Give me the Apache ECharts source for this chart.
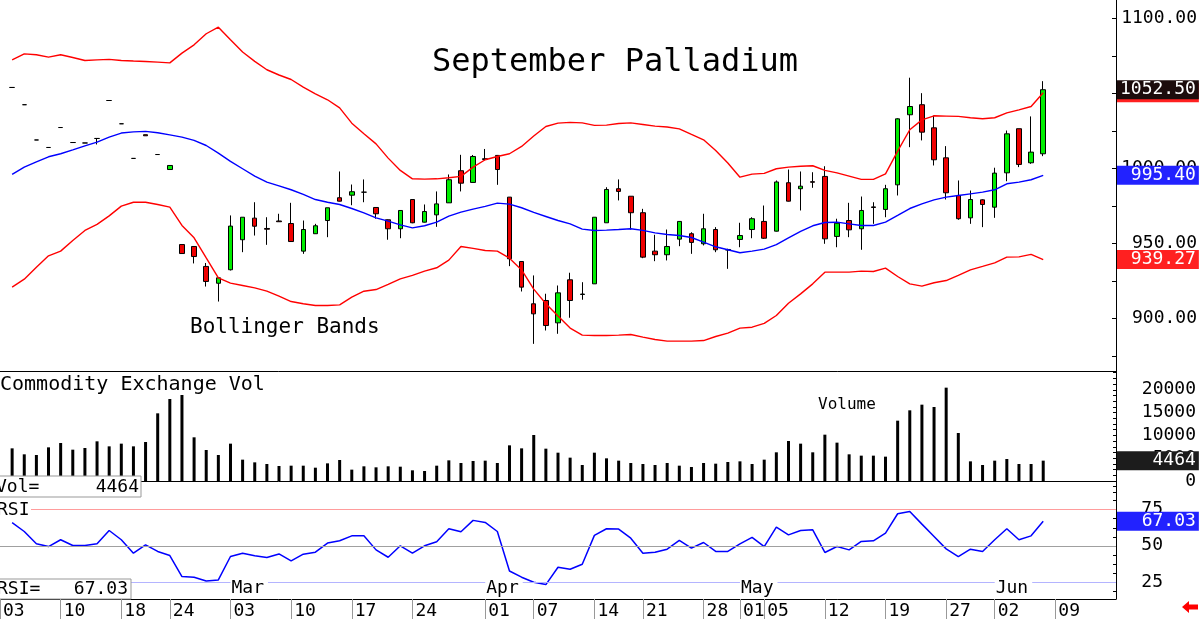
<!DOCTYPE html>
<html>
<head>
<meta charset="utf-8">
<script src="https://cdn.jsdelivr.net/npm/echarts@6/dist/echarts.min.js"></script>
<style>
html, body { margin: 0; padding: 0; background: #fff; }
#main { width: 1200px; height: 620px; }
</style>
</head>
<body>
<div id="main"></div>
<script>
// trading days, Feb 03 .. Jun 16 (first and trailing slots carry no bar)
var dates = ['02-03','02-04','02-05','02-06','02-07','02-10','02-11','02-12','02-13','02-14','02-18','02-19','02-20','02-21','02-24','02-25','02-26','02-27','02-28',
    '03-03','03-04','03-05','03-06','03-07','03-10','03-11','03-12','03-13','03-14','03-17','03-18','03-19','03-20','03-21','03-24','03-25','03-26','03-27','03-28','03-31',
    '04-01','04-02','04-03','04-04','04-07','04-08','04-09','04-10','04-11','04-14','04-15','04-16','04-17','04-21','04-22','04-23','04-24','04-25','04-28','04-29','04-30',
    '05-01','05-02','05-05','05-06','05-07','05-08','05-09','05-12','05-13','05-14','05-15','05-16','05-19','05-20','05-21','05-22','05-23','05-27','05-28','05-29','05-30',
    '06-02','06-03','06-04','06-05','06-06','06-09','06-10','06-11','06-12','06-13','06-16'];

// day labels on the date axis and month names
var dayTicks = ['02-03','02-10','02-18','02-24','03-03','03-10','03-17','03-24','04-01','04-07','04-14','04-21','04-28','05-01','05-05','05-12','05-19','05-27','06-02','06-09'];
var monthNames = { '03-03': 'Mar', '04-01': 'Apr', '05-01': 'May', '06-02': 'Jun' };

// OHLC from Feb 04 to Jun 06
var opens = [1054,1042.5,1019,1014,1027.3,1017.3,1017,1020,1045.3,1029.8,1006.7,1022.5,1009.3,999.3,949.3,948,934.7,923.5,932.5,952.5,
    966.9,960,965,963.3,944.9,956.5,965.3,980.5,982.2,984.2,974,965.8,959.8,979.3,964.2,969.1,977.1,998.5,990.7,1006.5,
    1008.7,980.9,938,909.8,912,897.1,925.8,916,923.1,963.8,986.5,981.5,970.5,944.9,942.5,952.9,956.5,949.8,959.3,945.6,
    952.7,959.3,964.7,958.2,990.5,986.5,991.2,994.7,954.7,965.3,959.8,974.4,972.7,989.1,1035.8,1042.5,1027.1,1007.1,982,967.1,
    979.1,974.2,997.1,1026.5,1003.8,1009.8];
var closes = [1054,1042.5,1019,1014,1027.3,1017.3,1017,1020,1045.3,1029.8,1006.7,1021.8,1009.3,1002,943.3,941.3,924.7,927.1,961.6,967.5,
    961.5,959.5,964.5,951.3,959.3,961.8,973.8,978.2,984.5,984.2,969.8,959.8,972,963.8,971.3,976.4,992.5,990.2,1008,1006,
    999.3,939.8,920.9,903.1,895.3,917.1,912,916.3,967.5,986,984.7,970.5,940.9,942.5,948,964.7,950.7,959.8,945.8,946,
    955.3,966.5,953.5,991,978.2,988.2,990.8,953.1,963.5,959.1,972,974,986.5,1033.1,1041.3,1024.2,1005.8,983.8,966.5,979.3,
    976,996.9,1023.1,1002.7,1010.9,1052.5];
var lows = [1054,1042.5,1019,1014,1027.3,1017.3,1017,1016,1045.3,1029.8,1006.7,1021.8,1009.3,999.3,943.3,936.7,921.3,911.3,932,944.2,
    955.3,949.1,964.5,951,943.1,956.5,954.2,978,975.5,977.5,966.5,952.5,953.5,963.5,964,961.1,977,984.7,990.5,1005.5,
    989.1,934.9,918,883.1,892,889.8,900.5,912.5,923,963.8,978.7,959.3,940.2,938.2,938.7,948.2,943.1,948.7,944.2,933.1,
    947.5,953.5,953,958,978,972,987.1,949.8,947.5,954.2,945.8,963.1,967.5,982,1014.2,1018.7,1002,979.3,965.8,963.1,
    960.9,967.1,991.5,1000.9,1003.1,1008.2];
var highs = [1054,1042.5,1019,1014,1027.3,1017.3,1017,1020,1045.3,1029.8,1006.7,1022.5,1009.3,1002,949.3,948,937,927.1,968.7,967.5,
    977.5,967.5,969.8,977.1,965.3,963.1,973.8,998,989.3,992.7,974,966,972,979.3,976,984.7,996,1009.1,1009,1013,
    1009,981,938,928.7,916.5,922,930.5,924.2,967.5,987.5,992.7,981.5,973.1,955.8,959.3,964.7,957.5,969.8,960.9,946.5,
    963.8,967.5,975.3,992,999.3,998,997.5,1001.5,966.5,977.1,981.3,977.5,989.1,1033.5,1060.5,1050.2,1035.3,1014.9,992,985.3,
    979.5,1000.5,1025.3,1026.5,1034.7,1058.2];

// Bollinger bands
var upperBand = [1072.4,1076.4,1075.8,1074.2,1075.8,1074,1072,1072.4,1072.7,1072,1071.6,1071.3,1070.9,1070.4,1076.9,1082.4,1089.8,1094.2,1085.8,1077.6,
    1071.4,1065.8,1062.3,1059.3,1054.2,1049.8,1045.8,1040.4,1030.2,1023.1,1016.4,1006.9,998.7,993.1,992.9,993.1,993.8,994.7,1000.9,1005.8,
    1008,1009.8,1014.7,1021.6,1028,1030.2,1030.7,1030.4,1028.7,1028.9,1030,1030.4,1029.3,1028.2,1027.6,1026.4,1022.7,1019.1,1012,1003.6,
    994.2,996.2,996.7,999.8,1000.9,1001.5,1001.8,998.7,997.1,994.9,992.7,992.7,996.4,1011.6,1025.8,1032.4,1035.1,1034.9,1034.7,1033.8,
    1033.1,1033.8,1037.1,1039.1,1041.3,1050.5];
var midBand = [996,1000.9,1004.4,1007.8,1009.8,1012.4,1015.1,1017.6,1020.9,1023.6,1024.4,1024.7,1023.8,1022.4,1020.9,1018.7,1015.3,1010.2,1004.7,999.8,
    994.9,990.9,988.4,985.8,982.7,979.3,977.5,976,973.3,970.4,967.1,964.9,962.4,960.4,961.8,964.2,968.2,970.9,972.9,974.7,
    976.9,976.2,973.8,970.7,968,965.3,963.1,959.6,958.7,958.9,959.3,959.8,958.7,957.1,956,955.3,954,950.9,947.8,945.8,
    943.8,944.9,946.2,949.3,953.8,958,961.8,964,964.2,963.1,962,962,964.2,968.7,973.3,976.4,979.1,980.9,982,983.1,
    984.2,985.8,989.8,990.9,992.5,995.4];
var lowerBand = [920.9,926.2,934.2,941.8,944.9,952,958.7,962.7,968.4,974.9,977.5,977.5,976,974.2,962,953.8,940.4,927.1,923.6,922,
    920.4,918.2,914.9,911.3,909.8,908.7,908.7,909.1,914.2,918.2,919.3,922.7,926.4,928.7,931.6,933.8,938.9,948,946.7,945.3,
    944.9,940.2,932.4,919.6,909.8,901.6,893.6,888.9,888.7,888.7,888.9,889.3,887.6,886,884.9,884.9,884.9,885.3,888,890.2,
    893.6,894.2,896.7,902,910.2,916.4,923.1,930.9,930.9,930.9,931.6,931.3,933.6,928,923.1,921.6,923.8,925.3,928.7,932.4,
    934.7,937.1,940.9,941.1,942.7,939.27];

// Commodity Exchange volume
var volumes = [7160,5850,5700,7380,8330,6870,7240,8700,7600,8190,7600,8550,14840,17980,18860,9580,6800,5700,8190,4680,
    4090,3730,3290,3360,3360,2920,3870,4610,2490,3220,3000,3220,3140,2340,2190,3360,4530,3950,4390,4460,
    3950,7820,7160,10090,7090,6210,5120,3510,6210,4970,4460,3950,3730,3510,3950,3360,3070,3950,3800,4170,
    4310,3730,4680,6290,8770,8190,6290,10160,8410,5850,5560,5560,5340,13230,15500,16740,16230,20470,10530,4310,
    3510,4460,4830,3730,3730,4464];

// RSI
var rsi = [66,59.9,51.4,49.5,54.2,50.2,50.2,51.4,60.6,54.2,44.9,50.7,46.1,43.3,28.7,28.3,25.7,26.4,42.6,44.9,
    43.1,41.9,44.4,39.6,44.2,45.6,51.9,53.5,56.9,56.9,47.2,42.1,50,44.9,50,52.8,61.8,59.7,67.6,66.2,
    59.9,32.6,28.3,24.8,23.2,35.2,33.8,37.3,57.2,61.8,61.6,55.3,44.9,45.6,47.7,53.7,48.4,52.3,46.1,46.1,
    51.4,55.8,49.5,63,57.6,60.6,61.1,45.4,49.5,47.2,53,53.5,58.8,72.2,73.8,65,56.5,47.9,42.6,47.7,
    46.1,54.2,61.8,54.2,56.9,67.03];

// axis tick / label values
var priceTicks = [875,900,925,950,975,1000,1025,1050,1075,1100];
var priceLabels = [900,950,1000,1050,1100];
var volTicks = [-2500,-1250,0,1250,2500,3750,5000,6250,7500,8750,10000,11250,12500,13750,15000,16250,17500,18750,20000,21250,22500,23750];
var volLabels = [0,5000,10000,15000,20000];
var rsiTicks = [18.75,25,31.25,37.5,43.75,50,56.25,62.5,68.75,75,81.25];
var rsiLabels = [25,50,75];

var MONO = "'DejaVu Sans Mono', monospace";
var last = closes.length - 1;
var CLEAR = 'rgba(0,0,0,0)';

function pad(v, d) {
    return v.toFixed(d).padStart(7, ' ');
}

function boxLabel(text, bg) {
    return {
        show: true,
        position: 'end',
        distance: 1,
        formatter: function() { return text; },
        color: '#fff',
        opacity: 1,
        backgroundColor: bg,
        fontFamily: MONO,
        fontSize: 18,
        lineHeight: 18,
        padding: [1, 3, 0, 3]
    };
}

// right side value box on a series (markLine whose line is transparent)
function valueBox(value, digits, bg) {
    return {
        silent: true,
        symbol: ['none', 'none'],
        lineStyle: { color: CLEAR, width: 1, type: 'solid' },
        label: boxLabel(pad(value, digits), bg),
        data: [{ yAxis: value }]
    };
}

var candleData = [['-', '-', '-', '-']];
for (var i = 0; i < opens.length; i++) {
    candleData.push([opens[i], closes[i], lows[i], highs[i]]);
}
var lead = ['-'];

var chart = echarts.init(document.getElementById('main'));

var hiddenX = function(gi) {
    return {
        type: 'category', gridIndex: gi, data: dates, boundaryGap: false,
        axisLine: { show: true, lineStyle: { color: '#000', width: 1 } },
        axisTick: { show: false }, axisLabel: { show: false }, splitLine: { show: false }
    };
};

var option = {
    animation: false,
    backgroundColor: '#fff',
    grid: [
        { left: -7.6, right: 84, top: 0, height: 371 },
        { left: -7.6, right: 84, top: 371, height: 126 },
        { left: -7.6, right: 84, top: 497, height: 103 }
    ],
    xAxis: [
        hiddenX(0),
        hiddenX(1),
        {
            type: 'category', gridIndex: 2, data: dates, boundaryGap: false,
            axisLine: { show: true, lineStyle: { color: '#000', width: 1 } },
            axisTick: {
                show: true, length: 20,
                interval: function(idx, val) { return dayTicks.indexOf(val) >= 0; },
                lineStyle: { color: '#999' }
            },
            axisLabel: {
                interval: function(idx, val) { return dayTicks.indexOf(val) >= 0; },
                formatter: function(val) { return val.slice(3); },
                align: 'left', padding: [0, 0, 0, 3], margin: 3,
                color: '#000', fontFamily: MONO, fontSize: 18
            },
            splitLine: { show: false }
        },
        {
            type: 'category', gridIndex: 2, data: dates, boundaryGap: false, position: 'bottom',
            z: 10,
            axisLine: { show: false }, axisTick: { show: false },
            axisLabel: {
                inside: true,
                interval: function(idx, val) { return monthNames[val] !== undefined; },
                formatter: function(val) { return monthNames[val]; },
                align: 'left', padding: [0, 4, 0, 1], margin: 2,
                backgroundColor: '#fff',
                color: '#000', fontFamily: MONO, fontSize: 18
            },
            splitLine: { show: false }
        }
    ],
    yAxis: [
        {
            type: 'value', gridIndex: 0, position: 'right', min: 865, max: 1112.3,
            axisLine: { show: true, lineStyle: { color: '#000' } },
            axisTick: { show: true, inside: true, length: 4, customValues: priceTicks, lineStyle: { color: '#000' } },
            axisLabel: {
                customValues: priceLabels,
                formatter: function(v) { return v.toFixed(2); },
                align: 'right', margin: 81, color: '#000', fontFamily: MONO, fontSize: 18
            },
            splitLine: { show: false }
        },
        {
            type: 'value', gridIndex: 1, position: 'right', min: -3509, max: 24123,
            axisLine: { show: true, lineStyle: { color: '#000' } },
            axisTick: { show: true, inside: true, length: 3, customValues: volTicks, lineStyle: { color: '#000' } },
            axisLabel: {
                customValues: volLabels,
                formatter: function(v) { return String(v); },
                align: 'right', margin: 80, color: '#000', fontFamily: MONO, fontSize: 18
            },
            splitLine: { show: false }
        },
        {
            type: 'value', gridIndex: 2, position: 'right', min: 13.22, max: 83.77,
            axisLine: { show: true, lineStyle: { color: '#000' } },
            axisTick: { show: true, inside: true, length: 3, customValues: rsiTicks, lineStyle: { color: '#000' } },
            axisLabel: {
                customValues: rsiLabels,
                formatter: function(v) { return String(v); },
                align: 'right', margin: 47, color: '#000', fontFamily: MONO, fontSize: 18
            },
            splitLine: { show: false }
        }
    ],
    series: [
        {
            name: 'upper', type: 'line', xAxisIndex: 0, yAxisIndex: 0,
            data: lead.concat(upperBand), symbol: 'none',
            lineStyle: { color: '#ff0000', width: 1.4 },
            markLine: valueBox(upperBand[last], 2, '#ff2020')
        },
        {
            name: 'lower', type: 'line', xAxisIndex: 0, yAxisIndex: 0,
            data: lead.concat(lowerBand), symbol: 'none',
            lineStyle: { color: '#ff0000', width: 1.4 },
            markLine: valueBox(lowerBand[last], 2, '#ff2020')
        },
        {
            name: 'mid', type: 'line', xAxisIndex: 0, yAxisIndex: 0,
            data: lead.concat(midBand), symbol: 'none',
            lineStyle: { color: '#0000ff', width: 1.4 },
            markLine: valueBox(midBand[last], 2, '#2222ff')
        },
        {
            name: 'price', type: 'candlestick', xAxisIndex: 0, yAxisIndex: 0,
            data: candleData, barWidth: 5, clip: false,
            itemStyle: {
                color: '#00ee00', color0: '#ee0000',
                borderColor: '#000', borderColor0: '#000', borderColorDoji: '#000', borderWidth: 1
            },
            markLine: valueBox(closes[last], 2, '#1c0c0c')
        },
        {
            name: 'vol', type: 'bar', xAxisIndex: 1, yAxisIndex: 1,
            data: lead.concat(volumes), barWidth: 3,
            itemStyle: { color: '#000' },
            markLine: valueBox(volumes[last], 0, '#1c1c1c')
        },
        {
            name: 'rsi', type: 'line', xAxisIndex: 2, yAxisIndex: 2,
            data: lead.concat(rsi), symbol: 'none',
            lineStyle: { color: '#0000ff', width: 1.5 },
            markLine: {
                silent: true,
                symbol: ['none', 'none'],
                label: { show: false },
                data: [
                    { yAxis: 75, lineStyle: { color: '#ff9c9c', width: 1, type: 'solid' } },
                    { yAxis: 50, lineStyle: { color: '#a0a0a0', width: 1, type: 'solid' } },
                    { yAxis: 25, lineStyle: { color: '#b4b4ff', width: 1, type: 'solid' } },
                    {
                        yAxis: rsi[last], lineStyle: { color: CLEAR, width: 1 },
                        label: boxLabel(pad(rsi[last], 2), '#2222ff')
                    }
                ]
            }
        }
    ],
    graphic: [
        { type: 'text', x: 432, y: 63, z: 100,
          style: { text: 'September Palladium', fontFamily: MONO, fontSize: 32, fill: '#000', verticalAlign: 'middle' } },
        { type: 'text', x: 190, y: 328, z: 100,
          style: { text: 'Bollinger Bands', fontFamily: MONO, fontSize: 21, fill: '#000', verticalAlign: 'middle' } },
        { type: 'text', x: 0, y: 385, z: 100,
          style: { text: 'Commodity Exchange Vol', fontFamily: MONO, fontSize: 20, fill: '#000', verticalAlign: 'middle' } },
        { type: 'text', x: 818, y: 405, z: 100,
          style: { text: 'Volume', fontFamily: MONO, fontSize: 16, fill: '#000', verticalAlign: 'middle' } },
        // Vol= box
        { type: 'rect', z: 100, shape: { x: -2, y: 476, width: 143, height: 21 },
          style: { fill: '#fff', stroke: '#999', lineWidth: 1 } },
        { type: 'text', x: -4, y: 487, z: 101,
          style: { text: 'Vol=', fontFamily: MONO, fontSize: 18, fill: '#000', verticalAlign: 'middle' } },
        { type: 'text', x: 139, y: 487, z: 101,
          style: { text: String(volumes[last]), fontFamily: MONO, fontSize: 18, fill: '#000', align: 'right', verticalAlign: 'middle' } },
        // RSI title
        { type: 'rect', z: 100, shape: { x: 0, y: 501, width: 31, height: 18 }, style: { fill: '#fff' } },
        { type: 'text', x: -3, y: 510, z: 101,
          style: { text: 'RSI', fontFamily: MONO, fontSize: 18, fill: '#000', verticalAlign: 'middle' } },
        // RSI= box
        { type: 'rect', z: 100, shape: { x: -2, y: 579, width: 133, height: 20 },
          style: { fill: '#fff', stroke: '#999', lineWidth: 1 } },
        { type: 'text', x: -3, y: 589.5, z: 101,
          style: { text: 'RSI=', fontFamily: MONO, fontSize: 18, fill: '#000', verticalAlign: 'middle' } },
        { type: 'text', x: 128, y: 589.5, z: 101,
          style: { text: rsi[last].toFixed(2), fontFamily: MONO, fontSize: 18, fill: '#000', align: 'right', verticalAlign: 'middle' } },
        // red arrow bottom right
        { type: 'polygon', z: 100,
          shape: { points: [[1182, 607], [1189, 601], [1189, 604.5], [1198, 604.5], [1198, 609.5], [1189, 609.5], [1189, 613]] },
          style: { fill: '#ff0000' } }
    ]
};

chart.setOption(option);
</script>
</body>
</html>
